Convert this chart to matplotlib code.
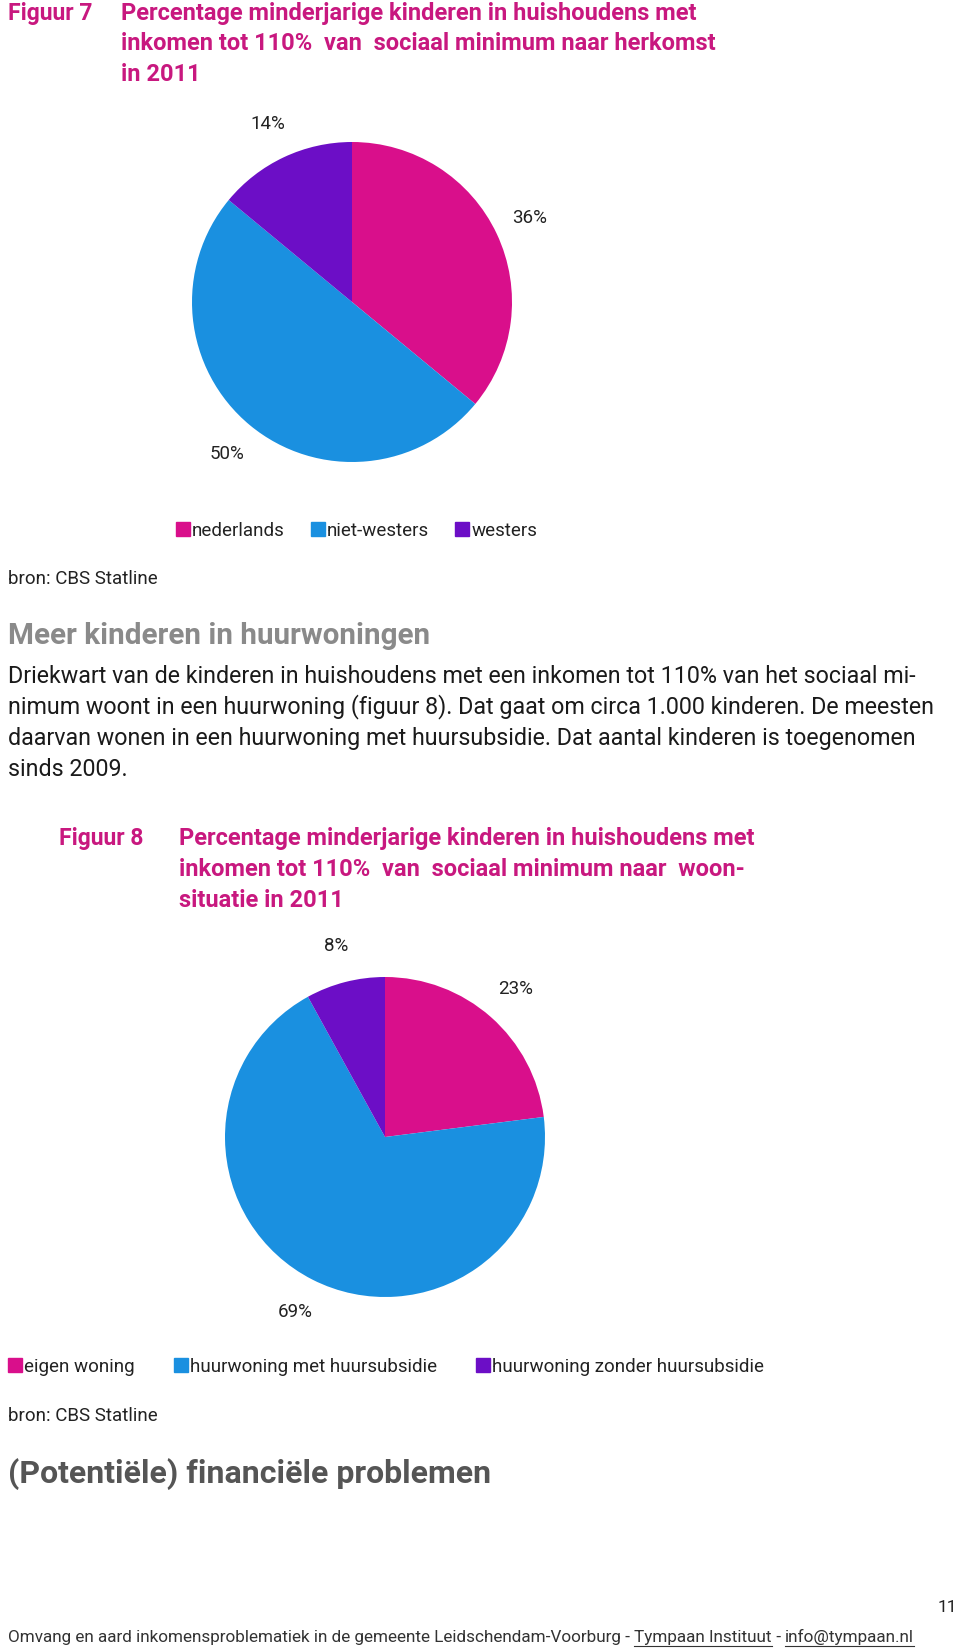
"""
Pagina 11 — twee cirkeldiagrammen (figuur 7 en 8) met de omliggende tekst.
"""

import matplotlib
matplotlib.use("Agg")
import matplotlib.pyplot as plt
from matplotlib.lines import Line2D

# --- data -------------------------------------------------------------------
fig7_labels = ["nederlands", "niet-westers", "westers"]
fig7_values = [36, 50, 14]

fig8_labels = ["eigen woning", "huurwoning met huursubsidie",
               "huurwoning zonder huursubsidie"]
fig8_values = [23, 69, 8]

fig7_title = ["Percentage minderjarige kinderen in huishoudens met",
              "inkomen tot 110%  van  sociaal minimum naar herkomst",
              "in 2011"]
fig8_title = ["Percentage minderjarige kinderen in huishoudens met",
              "inkomen tot 110%  van  sociaal minimum naar  woon-",
              "situatie in 2011"]
body_lines = [
    "Driekwart van de kinderen in huishoudens met een inkomen tot 110% van het sociaal mi-",
    "nimum woont in een huurwoning (figuur 8). Dat gaat om circa 1.000 kinderen. De meesten",
    "daarvan wonen in een huurwoning met huursubsidie. Dat aantal kinderen is toegenomen",
    "sinds 2009.",
]
footer_parts = [
    ("Omvang en aard inkomensproblematiek in de gemeente Leidschendam-Voorburg - ", False),
    ("Tympaan Instituut", True),
    (" - ", False),
    ("info@tympaan.nl", True),
]

# --- stijl ------------------------------------------------------------------
PIE_COLORS = ["#D90F8B", "#1A90E0", "#6C0EC6"]
TITLE_COLOR = "#C8187F"
plt.rcParams["font.family"] = ["Roboto", "DejaVu Sans"]

W, H = 960, 1648
fig = plt.figure(figsize=(W / 100, H / 100), dpi=100)
page = fig.add_axes([0, 0, 1, 1])
page.set_xlim(0, W)
page.set_ylim(H, 0)
page.axis("off")


def draw_pie(cx, cy, values, labels, legend_xy, colspacing):
    r = 160
    ax = fig.add_axes([(cx - r) / W, 1 - (cy + r) / H, 2 * r / W, 2 * r / H])
    ax.pie(
        values, colors=PIE_COLORS, startangle=90, counterclock=False,
        autopct="%1.0f%%", pctdistance=1.23, radius=1,
        wedgeprops={"linewidth": 0},
        textprops={"fontsize": 13.5, "color": "#222222"},
    )
    # pie() zet zelf de grenzen op +-1.25; terugzetten zodat de straal klopt
    ax.set_xlim(-1, 1)
    ax.set_ylim(-1, 1)
    ax.set_aspect("equal")
    ax.axis("off")

    handles = [Line2D([], [], marker="s", linestyle="none", markersize=10,
                      markerfacecolor=c, markeredgecolor=c) for c in PIE_COLORS]
    fig.legend(handles, labels, ncol=3, frameon=False, loc="center left",
               bbox_to_anchor=(legend_xy[0] / W, 1 - legend_xy[1] / H),
               handlelength=0.6, handletextpad=0.2, columnspacing=colspacing,
               borderaxespad=0, borderpad=0, fontsize=13.5, labelcolor="#222222")
    return ax


# --- figuur 7 ---------------------------------------------------------------
page.text(8, 13, "Figuur 7", fontsize=16.5, fontweight="bold",
          color=TITLE_COLOR, va="center")
for i, line in enumerate(fig7_title):
    page.text(121, 13 + i * 30.5, line, fontsize=17, fontweight="bold",
              color=TITLE_COLOR, va="center")

draw_pie(352, 302, fig7_values, fig7_labels, (177, 531), 1.45)
page.text(8, 579, "bron: CBS Statline", fontsize=13.5, color="#222222", va="center")

# --- tussentekst ------------------------------------------------------------
page.text(8, 636, "Meer kinderen in huurwoningen", fontsize=21.3, fontweight="bold",
          color="#8A8A8A", va="center")
for i, line in enumerate(body_lines):
    page.text(8, 676 + i * 31, line, fontsize=16.75, color="#1A1A1A", va="center")

# --- figuur 8 ---------------------------------------------------------------
page.text(59, 838, "Figuur 8", fontsize=16.5, fontweight="bold",
          color=TITLE_COLOR, va="center")
for i, line in enumerate(fig8_title):
    page.text(179, 838 + i * 31, line, fontsize=17, fontweight="bold",
              color=TITLE_COLOR, va="center")

draw_pie(385, 1137, fig8_values, fig8_labels, (9, 1367), 2.15)
page.text(8, 1416, "bron: CBS Statline", fontsize=13.5, color="#222222", va="center")

page.text(8, 1474, "(Potentiële) financiële problemen", fontsize=23, fontweight="bold",
          color="#555555", va="center")

# --- voettekst --------------------------------------------------------------
page.text(957, 1607, "11", fontsize=12.5, color="#222222", ha="right", va="center")

renderer = fig.canvas.get_renderer()
x = 8
for part, underline in footer_parts:
    t = page.text(x, 1642, part, fontsize=12.3, color="#333333", va="baseline")
    width = t.get_window_extent(renderer=renderer).width  # pixels == data units
    if underline:
        page.plot([x, x + width], [1645.5, 1645.5], color="#333333", linewidth=0.8)
    x += width

fig.savefig("out.png", dpi=100, facecolor="white")
